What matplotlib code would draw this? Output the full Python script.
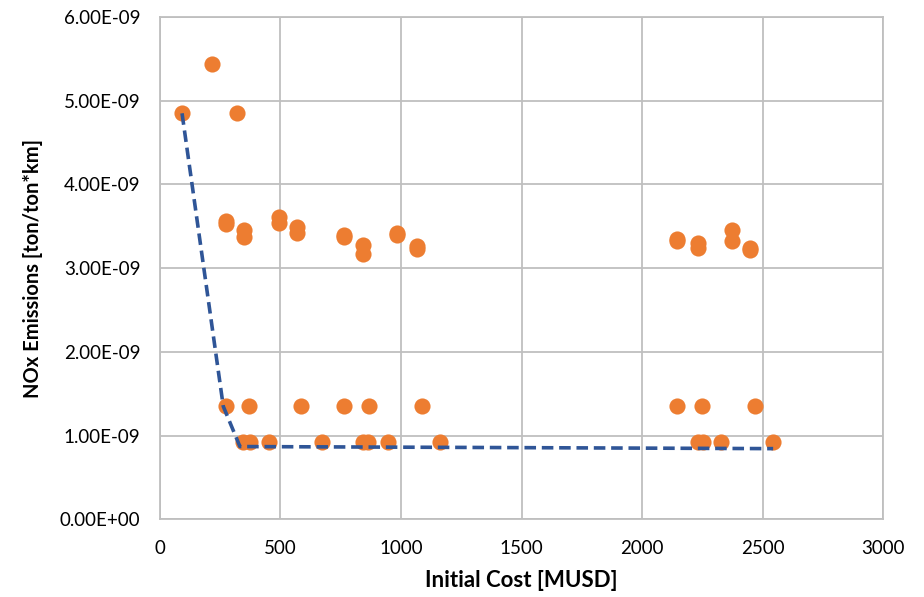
import numpy as np
import matplotlib.pyplot as plt

plt.rcParams['font.family'] = ['Lato', 'DejaVu Sans']

# scatter of all solutions: initial cost [MUSD] and NOx emissions [ton/ton*km]
cost = [92, 217, 321,
        274, 274, 350, 350, 492, 492, 567, 567, 765, 765, 841, 841, 982, 982, 1068, 1068,
        274, 369, 585, 765, 868, 1087,
        346, 373, 452, 671, 843, 864, 945, 1162,
        2145, 2145, 2230, 2230, 2372, 2372, 2448, 2448,
        2145, 2250, 2467,
        2230, 2254, 2325, 2542]
nox = [4.85e-9, 5.44e-9, 4.85e-9,
       3.53e-9, 3.56e-9, 3.455e-9, 3.375e-9, 3.61e-9, 3.535e-9, 3.49e-9, 3.415e-9, 3.375e-9, 3.40e-9,
       3.275e-9, 3.175e-9, 3.40e-9, 3.42e-9, 3.235e-9, 3.26e-9,
       1.36e-9, 1.36e-9, 1.36e-9, 1.36e-9, 1.36e-9, 1.36e-9,
       0.925e-9, 0.925e-9, 0.925e-9, 0.925e-9, 0.925e-9, 0.925e-9, 0.925e-9, 0.925e-9,
       3.33e-9, 3.35e-9, 3.30e-9, 3.245e-9, 3.455e-9, 3.32e-9, 3.215e-9, 3.245e-9,
       1.36e-9, 1.36e-9, 1.36e-9,
       0.925e-9, 0.925e-9, 0.925e-9, 0.925e-9]

# pareto front
front_cost = [92, 263, 332, 2543]
front_nox = [4.85e-9, 1.35e-9, 0.87e-9, 0.845e-9]

x_ticks = [0, 500, 1000, 1500, 2000, 2500, 3000]
y_ticks = np.arange(0, 6.01e-9, 1e-9)

fig = plt.figure(figsize=(9.24, 5.97), dpi=100)
ax = fig.add_axes([0.173, 0.130, 0.783, 0.8415])

ax.scatter(cost, nox, s=135, color='#ED7D31', zorder=3, linewidths=0)
ax.plot(front_cost, front_nox, color='#2F5597', lw=2.6, dashes=(3.2, 1.6), zorder=4)

ax.set_xlim(0, 3000)
ax.set_ylim(0, 6e-9)
ax.set_xticks(x_ticks)
ax.set_yticks(y_ticks)
ax.set_yticklabels([f"{v:.2E}" for v in y_ticks])
ax.grid(True, color='#BFBFBF', lw=1.3)
ax.set_axisbelow(True)
for sp in ax.spines.values():
    sp.set_color('#BFBFBF')
    sp.set_linewidth(1.3)
ax.tick_params(length=0, labelsize=13.5, pad=14)
ax.tick_params(axis='x', pad=15)

ax.set_xlabel('Initial Cost [MUSD]', fontsize=16, fontweight='bold', labelpad=9)
ax.set_ylabel('NOx Emissions [ton/ton*km]', fontsize=14.5, fontweight='bold', labelpad=12)

fig.savefig('out.png', dpi=100)
